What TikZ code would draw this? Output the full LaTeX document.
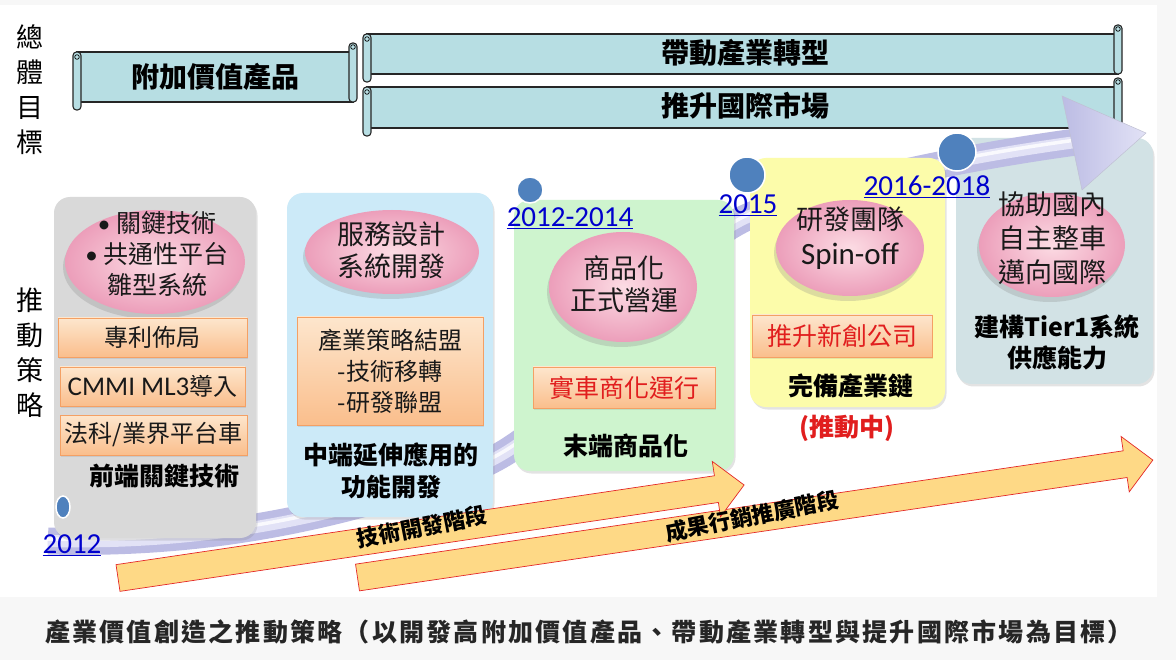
\documentclass[tikz,border=0pt]{standalone}
\usepackage{fontspec}
\setmainfont{Noto Sans CJK TC}
\newfontfamily\calfont{Carlito}
\usetikzlibrary{shapes.geometric,shadows}

\definecolor{bgGray}{RGB}{247,247,247}
\definecolor{scrollfill}{RGB}{183,222,227}
\definecolor{pGray}{RGB}{217,217,217}
\definecolor{pBlue}{RGB}{204,234,248}
\definecolor{pGreen}{RGB}{206,244,206}
\definecolor{pYellow}{RGB}{252,252,170}
\definecolor{pSlate}{RGB}{210,226,229}
\definecolor{pinkIn}{RGB}{252,220,228}
\definecolor{pinkOut}{RGB}{236,158,186}
\definecolor{oTop}{RGB}{253,230,205}
\definecolor{oBot}{RGB}{250,190,140}
\definecolor{oEdge}{RGB}{244,160,100}
\definecolor{redText}{RGB}{225,30,30}
\definecolor{yearBlue}{RGB}{0,0,205}
\definecolor{dotBlue}{RGB}{79,129,189}
\definecolor{lav}{RGB}{188,188,228}
\definecolor{lavLight}{RGB}{226,226,246}
\definecolor{arrFill}{RGB}{254,217,134}
\definecolor{arrEdge}{RGB}{228,40,40}

\newcommand\scrollbanner[4]{%
  \draw[scrollline] (#1,#2) rectangle (#3,#4);
  \draw[scrollline, rounded corners=3.5pt] (#3-4,#2-9) rectangle (#3+4,#4);
  \draw[black, line width=0.7pt] (#3,#2-5) circle (2.3pt);
  \draw[scrollline, rounded corners=3.5pt] (#1-4,#2) rectangle (#1+4,#4+8);
  \draw[black, line width=0.7pt] (#1,#2+5) circle (2.3pt);
}

\begin{document}
\begin{tikzpicture}[x=1pt,y=-1pt,
  scrollline/.style={draw=black!85, line width=1.1pt, fill=scrollfill},
  bannertext/.style={font={\fontsize{28}{28}\selectfont\bfseries}, text=black},
  sidelabel/.style={align=center, font={\fontsize{27}{35}\selectfont}},
  panel/.style={rectangle, rounded corners=16pt, draw=none, inner sep=0pt,
    drop shadow={opacity=0.22, shadow xshift=1.5pt, shadow yshift=-2.5pt}},
  pinkell/.style={ellipse, inner sep=0pt, draw=none, inner color=pinkIn, outer color=pinkOut,
    drop shadow={opacity=0.25, shadow xshift=-2pt, shadow yshift=-5pt}},
  elltext/.style={align=center, font={\fontsize{27}{32}\selectfont}, text=black!90},
  obox/.style={rectangle, draw=oEdge, line width=0.8pt, top color=oTop, bottom color=oBot,
    inner sep=0pt, drop shadow={opacity=0.18, shadow xshift=1pt, shadow yshift=-2pt}},
  boxtext/.style={align=center, font={\fontsize{24}{31}\selectfont}, text=black!90},
  redbox/.style={align=center, font={\fontsize{25}{30}\selectfont}, text=redText},
  boldlabel/.style={align=center, font={\fontsize{25}{32}\selectfont\bfseries}, text=black},
  year/.style={font={\calfont\fontsize{29}{29}\selectfont}, text=yearBlue, inner sep=0pt},
  dot/.style={circle, fill=dotBlue, draw=white, line width=1.5pt, inner sep=0pt},
  yarrow/.style={fill=arrFill, draw=arrEdge, line width=0.7pt, line join=miter},
  arrtext/.style={font={\fontsize{22}{22}\selectfont\bfseries}, text=black, inner sep=1pt}
]
\useasboundingbox (0,0) rectangle (1176,660);
\fill[bgGray] (0,0) rectangle (1176,660);
\fill[white] (0,5) rectangle (1157,597);

% ---- side labels
\node[sidelabel] (goalLabel) at (30,90) {總\\體\\目\\標};
\node[sidelabel] (stratLabel) at (30,353) {推\\動\\策\\略};

% ---- scroll banners
\scrollbanner{77}{52}{353}{102}
\node[bannertext] (g1) at (215,77) {附加價值產品};
\scrollbanner{367}{34}{1118}{74}
\node[bannertext] (g2) at (745,53) {帶動產業轉型};
\scrollbanner{367}{87}{1118}{128}
\node[bannertext] (g3) at (745,106) {推升國際市場};

% ---- last panel (under the big arrow)
\node[panel, fill=pSlate, minimum width=197pt, minimum height=246pt] (p5) at (1054.5,261) {};

% ---- big curved arrow
\draw[lav, line width=27pt] (48,541) .. controls (200,545) and (330,520) .. (470,470)
  .. controls (600,420) and (650,250) .. (760,212)
  .. controls (860,178) and (980,155) .. (1076,142);
\draw[lavLight, line width=12pt] (48,541) .. controls (200,545) and (330,520) .. (470,470)
  .. controls (600,420) and (650,250) .. (760,212)
  .. controls (860,178) and (980,155) .. (1076,142);
\draw[white, line width=3.5pt, opacity=0.8] (48,539) .. controls (200,543) and (330,518) .. (470,468)
  .. controls (600,418) and (650,248) .. (760,210)
  .. controls (860,176) and (980,153) .. (1076,140);
\shade[left color=lav, right color=lavLight, draw=lav!80!black!60, line width=0.5pt]
  (1062,96) -- (1146,133) -- (1082,190) -- cycle;

% ---- panels
\node[panel, fill=pGray, minimum width=202pt, minimum height=341pt] (p1) at (155,367.5) {};
\node[panel, fill=pBlue, minimum width=206pt, minimum height=324pt] (p2) at (390,355) {};
\node[panel, fill=pGreen, minimum width=220pt, minimum height=271pt] (p3) at (624,335.5) {};
\node[panel, fill=pYellow, minimum width=195pt, minimum height=249pt] (p4) at (847.5,282.5) {};

% ---- pink ellipses
\node[pinkell, minimum width=180pt, minimum height=104pt] (e1) at (155,262) {};
\node[pinkell, minimum width=174pt, minimum height=84pt] (e2) at (392,252) {};
\node[pinkell, minimum width=148pt, minimum height=110pt] (e3) at (623,287) {};
\node[pinkell, minimum width=148pt, minimum height=96pt] (e4) at (850,248) {};
\node[pinkell, minimum width=146pt, minimum height=104pt] (e5) at (1052,245) {};

\node[elltext, font={\fontsize{25}{31}\selectfont}] (t1) at (157,254) {{\calfont •}\ 關鍵技術\\{\calfont •}\ 共通性平台\\雛型系統};
\node[elltext] (t2) at (391,250) {服務設計\\系統開發};
\node[elltext] (t3) at (624,284) {商品化\\正式營運};
\node[elltext, font={\fontsize{27}{35}\selectfont}] (t4) at (850,238) {研發團隊\\{\calfont\fontsize{31}{35}\selectfont Spin-off}};
\node[elltext, font={\fontsize{27}{34}\selectfont}] (t5) at (1052,238) {協助國內\\自主整車\\邁向國際};

% ---- orange boxes
\node[obox, minimum width=189pt, minimum height=39pt] (b1) at (152.5,337.5) {};
\node[boxtext] (b1t) at (b1) {專利佈局};
\node[obox, minimum width=185pt, minimum height=39pt] (b2) at (152.5,386.5) {};
\node[boxtext] (b2t) at (b2) {{\calfont\fontsize{27}{27}\selectfont CMMI ML3}導入};
\node[obox, minimum width=187pt, minimum height=40pt] (b3) at (153.5,435) {};
\node[boxtext] (b3t) at (b3) {法科/業界平台車};
\node[obox, minimum width=186pt, minimum height=108pt] (b4) at (390,371) {};
\node[boxtext] (b4t) at (390,371) {產業策略結盟\\-技術移轉\\-研發聯盟};
\node[obox, minimum width=182pt, minimum height=41pt] (b5) at (624,387.5) {};
\node[redbox] (b5t) at (b5) {實車商化運行};
\node[obox, minimum width=180pt, minimum height=42pt] (b6) at (842,336) {};
\node[redbox] (b6t) at (b6) {推升新創公司};

% ---- bold labels
\node[boldlabel] (l1) at (164,476) {前端關鍵技術};
\node[boldlabel] (l2) at (391,471) {中端延伸應用的\\功能開發};
\node[boldlabel] (l3) at (626,446) {末端商品化};
\node[boldlabel] (l4) at (851,386) {完備產業鏈};
\node[boldlabel, text=redText] (l5) at (847,428) {(推動中)};
\node[boldlabel, font={\fontsize{25}{31}\selectfont\bfseries}] (l6) at (1057,342) {建構Tier1系統\\供應能力};

% ---- dots
\node[dot, ellipse, minimum width=14pt, minimum height=22pt] (d1) at (63,507) {};
\node[dot, minimum size=26pt] (d2) at (530,190) {};
\node[dot, minimum size=36pt] (d3) at (747,175) {};
\node[dot, minimum size=38pt] (d4) at (957,152) {};

% ---- years
\node[year] (y1) at (72,545) {\underline{2012}};
\node[year] (y2) at (570,218) {\underline{2012-2014}};
\node[year] (y3) at (748,205) {\underline{2015}};
\node[year] (y4) at (927,187) {\underline{2016-2018}};

% ---- yellow phase arrows
\begin{scope}[shift={(357.5,577.5)}, rotate=8.4]
  \path[yarrow] (0,-13.5) -- (776,-13.5) -- (776,-28) -- (804,0) -- (776,28) -- (776,13.5) -- (0,13.5) -- cycle;
\end{scope}
\begin{scope}[shift={(118,578)}, rotate=8.45]
  \path[yarrow] (0,-13.5) -- (605,-13.5) -- (605,-28) -- (633,0) -- (605,28) -- (605,13.5) -- (0,13.5) -- cycle;
\end{scope}
\node[arrtext, rotate=11] (a1t) at (422,527) {技術開發階段};
\node[arrtext, rotate=11] (a2t) at (752,516) {成果行銷推廣階段};

% ---- caption
\node[font={\fontsize{25}{25}\selectfont\bfseries\addfontfeature{LetterSpace=9}}, text=black!85] (cap) at (589,632)
  {產業價值創造之推動策略（以開發高附加價值產品、帶動產業轉型與提升國際市場為目標）};
\end{tikzpicture}
\end{document}
